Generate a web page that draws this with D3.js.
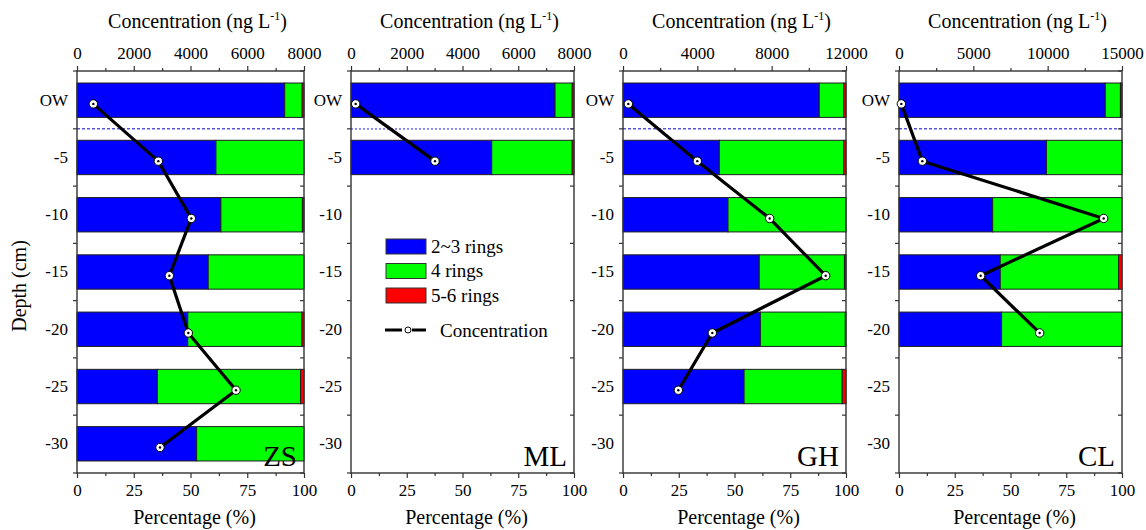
<!DOCTYPE html>
<html>
<head>
<meta charset="utf-8">
<script src="https://cdn.jsdelivr.net/npm/d3@7/dist/d3.min.js"></script>
</head>
<body style="margin:0">
<svg id="chart" width="1146" height="530"></svg>
<script>
// ---------------- data ----------------
const depthLabels = ["OW", "-5", "-10", "-15", "-20", "-25", "-30"];
const depthValues = [0, -5, -10, -15, -20, -25, -30];
const seriesNames = ["2~3 rings", "4 rings", "5-6 rings"];
const seriesColors = ["#0000ff", "#00ff00", "#ff0000"];
const pctTicks = [0, 25, 50, 75, 100];

const siteNames = ["ZS", "ML", "GH", "CL"];

const zsRing23 = [91.5, 61.2, 63.4, 57.8, 48.8, 35.4, 52.7];
const zsRing4  = [7.7, 38.8, 35.9, 42.2, 50.3, 63.1, 47.3];
const zsRing56 = [0.8, 0.0, 0.7, 0.0, 0.9, 1.5, 0.0];
const zsConc   = [575, 2866, 4029, 3254, 3923, 5604, 2925];

const mlRing23 = [91.5, 63.1];
const mlRing4  = [7.7, 36.1];
const mlRing56 = [0.8, 0.8];
const mlConc   = [168, 3013];

const ghRing23 = [88.0, 43.2, 47.1, 61.1, 61.6, 54.3];
const ghRing4  = [11.0, 55.8, 52.7, 38.2, 38.1, 44.0];
const ghRing56 = [1.0, 1.0, 0.2, 0.7, 0.3, 1.7];
const ghConc   = [287, 3998, 7892, 10906, 4806, 2978];

const clRing23 = [92.5, 66.1, 42.0, 45.4, 46.0];
const clRing4  = [6.8, 33.9, 58.0, 53.1, 54.0];
const clRing56 = [0.7, 0.0, 0.0, 1.5, 0.0];
const clConc   = [157, 1570, 13767, 5493, 9462];

const concMax   = [8000, 8000, 12000, 15000];
const concTicks = [
  [0, 2000, 4000, 6000, 8000],
  [0, 2000, 4000, 6000, 8000],
  [0, 4000, 8000, 12000],
  [0, 5000, 10000, 15000]
];

// ---------------- layout ----------------
const FONT = "Liberation Serif";
const plotTop = 71, plotBottom = 473;
const panelX = [[77, 304], [351, 574], [623, 846], [899, 1122]];
const dashStyle = [
  { color: "#0000cc", dash: "3,2", width: 1 },
  { color: "#8080ff", dash: "2,2", width: 1.6 },
  { color: "#0000cc", dash: "3,2", width: 1 },
  { color: "#0000cc", dash: "3,2", width: 1 }
];

const panelData = [
  { r23: zsRing23, r4: zsRing4, r56: zsRing56, conc: zsConc },
  { r23: mlRing23, r4: mlRing4, r56: mlRing56, conc: mlConc },
  { r23: ghRing23, r4: ghRing4, r56: ghRing56, conc: ghConc },
  { r23: clRing23, r4: clRing4, r56: clRing56, conc: clConc }
];

const svg = d3.select("#chart");
const axisColor = "#333";
const tickFont = 17;

const yBand = d3.scaleBand().domain(depthLabels).range([plotTop, plotBottom])
  .paddingInner(0.4).paddingOuter(0.21);
const center = l => yBand(l) + yBand.bandwidth() / 2;
const yDepth = d3.scaleLinear().domain([0, -30])
  .range([center("OW") + 3.7, center("-30") + 3.7]);
const bounds = [plotTop];
for (let i = 0; i < depthLabels.length - 1; i++) {
  bounds.push((center(depthLabels[i]) + center(depthLabels[i + 1])) / 2);
}
bounds.push(plotBottom);

function styleAxis(g) {
  g.attr("font-family", null);
  g.select(".domain").remove();
  g.selectAll(".tick line").attr("stroke", axisColor).attr("stroke-width", 1.2);
  g.selectAll(".tick text").attr("font-size", tickFont).attr("fill", "#000");
}

siteNames.forEach((site, p) => {
  const [x0, x1] = panelX[p];
  const d = panelData[p];
  const xPct = d3.scaleLinear().domain([0, 100]).range([x0, x1]);
  const xConc = d3.scaleLinear().domain([0, concMax[p]]).range([x0, x1]);
  const g = svg.append("g");

  d.r23.forEach((v, i) => {
    const lab = depthLabels[i];
    const segs = [
      [0, v],
      [v, v + d.r4[i]],
      [v + d.r4[i], v + d.r4[i] + d.r56[i]]
    ];
    segs.forEach((s, k) => {
      if (s[1] - s[0] <= 0) return;
      g.append("rect")
        .attr("x", xPct(s[0]))
        .attr("y", yBand(lab))
        .attr("width", xPct(s[1]) - xPct(s[0]))
        .attr("height", yBand.bandwidth())
        .attr("fill", seriesColors[k])
        .attr("stroke", "#1e1e1e")
        .attr("stroke-width", 1);
    });
  });

  const ds = dashStyle[p];
  g.append("line")
    .attr("x1", x0).attr("x2", x1)
    .attr("y1", bounds[1]).attr("y2", bounds[1])
    .attr("stroke", ds.color).attr("stroke-width", ds.width)
    .attr("stroke-dasharray", ds.dash);

  g.append("rect")
    .attr("x", x0).attr("y", plotTop)
    .attr("width", x1 - x0).attr("height", plotBottom - plotTop)
    .attr("fill", "none").attr("stroke", axisColor).attr("stroke-width", 1.4);

  const major = concTicks[p];
  const step = major[1] - major[0];
  const minor = d3.range(step / 2, concMax[p], step);
  g.append("g").attr("transform", `translate(0,${plotTop})`)
    .call(d3.axisTop(xConc).tickValues(major).tickSize(5).tickPadding(7).tickFormat(d3.format("d")))
    .call(styleAxis);
  g.append("g").attr("transform", `translate(0,${plotTop})`)
    .call(d3.axisTop(xConc).tickValues(minor).tickSize(3).tickFormat(""))
    .call(styleAxis);

  g.append("g").attr("transform", `translate(0,${plotBottom})`)
    .call(d3.axisBottom(xPct).tickValues(pctTicks).tickSize(5).tickPadding(6).tickFormat(d3.format("d")))
    .call(styleAxis);
  g.append("g").attr("transform", `translate(0,${plotBottom})`)
    .call(d3.axisBottom(xPct).tickValues([12.5, 37.5, 62.5, 87.5]).tickSize(3).tickFormat(""))
    .call(styleAxis);

  g.append("g").attr("transform", `translate(${x0},0)`)
    .call(d3.axisLeft(yBand).tickSize(0).tickPadding(9))
    .call(styleAxis);
  g.selectAll(null).data(bounds).enter().append("line")
    .attr("x1", x0 - 4).attr("x2", x0)
    .attr("y1", b => b).attr("y2", b => b)
    .attr("stroke", axisColor).attr("stroke-width", 1.2);
  g.selectAll(null).data(bounds).enter().append("line")
    .attr("x1", x1 - 4).attr("x2", x1)
    .attr("y1", b => b).attr("y2", b => b)
    .attr("stroke", axisColor).attr("stroke-width", 1.2);

  const pts = d.conc.map((c, i) => [xConc(c), yDepth(depthValues[i])]);
  g.append("path")
    .attr("d", d3.line()(pts))
    .attr("fill", "none").attr("stroke", "#000").attr("stroke-width", 3.2);
  g.selectAll(null).data(pts).enter().append("circle")
    .attr("cx", q => q[0]).attr("cy", q => q[1]).attr("r", 4.2)
    .attr("fill", "#fff").attr("stroke", "#000").attr("stroke-width", 1);
  g.selectAll(null).data(pts).enter().append("circle")
    .attr("cx", q => q[0]).attr("cy", q => q[1]).attr("r", 1.2)
    .attr("fill", "#000");

  g.append("text")
    .attr("x", x1 - 7).attr("y", 466)
    .attr("text-anchor", "end").attr("font-size", 29)
    .text(site);

  const cx = (x0 + x1) / 2;
  const tt = g.append("text")
    .attr("x", cx + 7).attr("y", 28)
    .attr("text-anchor", "middle").attr("font-size", 20);
  tt.append("tspan").text("Concentration (ng L");
  tt.append("tspan").attr("dy", -8).attr("font-size", 12).text("-1");
  tt.append("tspan").attr("dy", 8).text(")");

  g.append("text")
    .attr("x", cx + 4).attr("y", 524)
    .attr("text-anchor", "middle").attr("font-size", 20)
    .text("Percentage (%)");
});

svg.append("text")
  .attr("transform", "translate(26,286) rotate(-90)")
  .attr("text-anchor", "middle").attr("font-size", 20)
  .text("Depth (cm)");

const lg = svg.append("g").attr("transform", "translate(386,239)");
seriesNames.forEach((n, i) => {
  lg.append("rect")
    .attr("x", 0).attr("y", i * 24.5)
    .attr("width", 40).attr("height", 15)
    .attr("fill", seriesColors[i]).attr("stroke", "#333").attr("stroke-width", 1);
  lg.append("text")
    .attr("x", 45).attr("y", i * 24.5 + 13.5)
    .attr("font-size", 19).text(n);
});
lg.append("line").attr("x1", -1).attr("x2", 16).attr("y1", 91).attr("y2", 91)
  .attr("stroke", "#000").attr("stroke-width", 3);
lg.append("circle").attr("cx", 22).attr("cy", 91).attr("r", 3)
  .attr("fill", "#fff").attr("stroke", "#000").attr("stroke-width", 1);
lg.append("line").attr("x1", 26).attr("x2", 40).attr("y1", 91).attr("y2", 91)
  .attr("stroke", "#000").attr("stroke-width", 3);
lg.append("text").attr("x", 54).attr("y", 97.5)
  .attr("font-size", 19).text("Concentration");

// apply the serif family to every text element directly
svg.selectAll("text").attr("font-family", FONT).style("font-family", FONT);
</script>
</body>
</html>
